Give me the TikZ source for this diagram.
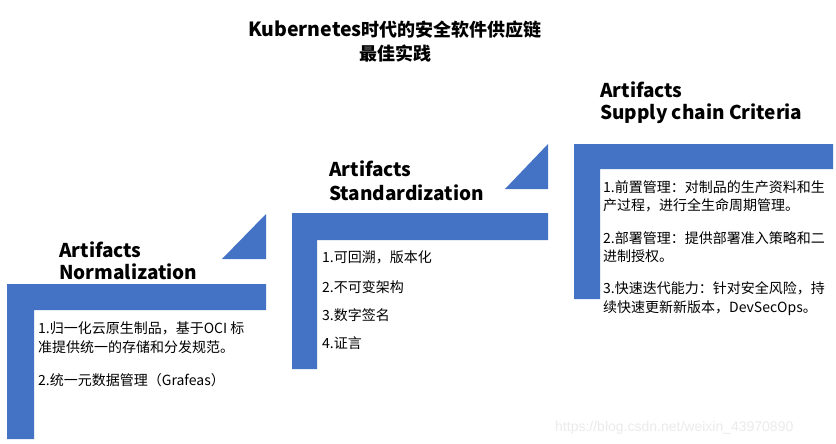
\documentclass[tikz,border=0pt]{standalone}
\usepackage{fontspec}
\setmainfont{Noto Sans CJK SC}
\newfontfamily\wmfont{Liberation Sans}
\definecolor{stairblue}{HTML}{4472C4}
\definecolor{wmgray}{HTML}{EBEBEB}
\tikzset{
  stair/.style={fill=stairblue, draw=none},
  heading/.style={anchor=base west, inner sep=0pt, font=\fontsize{19pt}{23pt}\selectfont\bfseries},
  body/.style={anchor=base west, inner sep=0pt, font=\fontsize{14pt}{19pt}\selectfont, text=black},
  titletext/.style={anchor=base, inner sep=0pt, font=\fontsize{18pt}{22pt}\selectfont\bfseries},
}
\begin{document}
\begin{tikzpicture}[x=1pt,y=-1pt]
\useasboundingbox (0,0) rectangle (836,444);
\fill[white] (0,0) rectangle (836,444);

% staircase shapes
\fill[stair] (7,284) -- (266,284) -- (266,310) -- (34,310) -- (34,439) -- (7,439) -- cycle;
\fill[stair] (222,259) -- (266,259) -- (266,214) -- cycle;
\fill[stair] (292,213) -- (548,213) -- (548,240) -- (317,240) -- (317,369) -- (292,369) -- cycle;
\fill[stair] (505,189) -- (548,189) -- (548,144) -- cycle;
\fill[stair] (574,144) -- (833,144) -- (833,169) -- (600,169) -- (600,299) -- (574,299) -- cycle;

% title
\node[titletext] (t1) at (395,37) {{\fontsize{19.5pt}{22pt}\selectfont Kubernetes}时代的安全软件供应链};
\node[titletext] (t2) at (395,61) {最佳实践};

% headings
\node[heading] (h1a) at (59,257) {Artifacts};
\node[heading] (h1b) at (59,279) {Normalization};
\node[heading] (h2a) at (329,176) {Artifacts};
\node[heading] (h2b) at (329,200) {Standardization};
\node[heading] (h3a) at (600,97) {Artifacts};
\node[heading] (h3b) at (600,120) {Supply chain Criteria};

% block 1 body
\node[body] (b1a) at (38,333) {1.归一化云原生制品，基于OCI 标};
\node[body] (b1b) at (38,352) {准提供统一的存储和分发规范。};
\node[body] (b1c) at (38,385) {2.统一元数据管理（Grafeas）};

% block 2 body
\node[body] (b2a) at (322,262) {1.可回溯，版本化};
\node[body] (b2b) at (322,292) {2.不可变架构};
\node[body] (b2c) at (322,320) {3.数字签名};
\node[body] (b2d) at (322,348) {4.证言};

% block 3 body
\node[body] (b3a) at (603,192) {1.前置管理：对制品的生产资料和生};
\node[body] (b3b) at (603,210) {产过程，进行全生命周期管理。};
\node[body] (b3c) at (603,243) {2.部署管理：提供部署准入策略和二};
\node[body] (b3d) at (603,261) {进制授权。};
\node[body] (b3e) at (603,293) {3.快速迭代能力：针对安全风险，持};
\node[body] (b3f) at (603,312) {续快速更新新版本，DevSecOps。};

% watermark
\node[anchor=base west, inner sep=0pt, font=\wmfont\fontsize{14pt}{16pt}\selectfont, text=wmgray] (wm) at (555,431) {https://blog.csdn.net/weixin\_43970890};
\end{tikzpicture}
\end{document}
